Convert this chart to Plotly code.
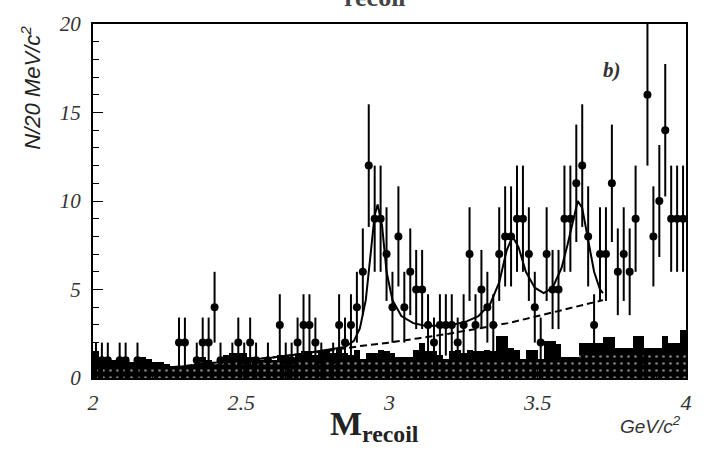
import plotly.graph_objects as go

# Recoil-mass spectrum, 20 MeV/c^2 bins from 2.0 to 4.0 GeV/c^2
x_lo, bin_w = 2.0, 0.02

counts = [
    1, 1, 1, 0, 1, 1, 0, 1, 0, 0,
    0, 0, 0, 0, 2, 2, 0, 1, 2, 2,
    4, 1, 0, 1, 2, 1, 2, 1, 0, 1,
    0, 3, 1, 1, 2, 3, 3, 2, 1, 0,
    1, 3, 2, 3, 4, 6, 12, 9, 9, 7,
    4, 8, 4, 6, 5, 5, 3, 2, 3, 3,
    3, 2, 3, 7, 3, 5, 4, 3, 7, 8,
    8, 9, 9, 7, 4, 2, 7, 5, 5, 9,
    9, 11, 12, 8, 3, 7, 7, 11, 6, 7,
    6, 9, 1, 16, 8, 10, 14, 9, 9, 9,
]

# background estimate (solid black) and its dotted component
bkg_total = [
    1.5, 1.2, 1.2, 1.0, 1.2, 1.2, 0.9, 1.2, 1.2, 1.1,
    0.9, 0.9, 0.8, 0.7, 0.7, 0.7, 0.7, 1.0, 1.2, 1.0,
    0.8, 1.0, 1.3, 1.4, 1.4, 1.4, 1.2, 1.0, 1.0, 0.8,
    1.0, 1.3, 1.3, 1.0, 1.3, 1.5, 1.5, 1.3, 1.5, 1.6,
    1.4, 1.7, 1.4, 1.3, 1.6, 1.1, 1.4, 1.4, 1.6, 1.5,
    1.4, 1.2, 1.2, 1.2, 1.6, 2.0, 1.5, 1.5, 1.3, 1.1,
    1.5, 1.6, 1.4, 1.6, 1.5, 1.5, 1.6, 1.5, 2.4, 2.4,
    1.7, 1.6, 1.1, 1.6, 1.6, 1.1, 2.1, 2.1, 1.9, 1.2,
    1.2, 1.2, 2.0, 2.0, 2.0, 2.0, 2.3, 2.3, 1.7, 1.7,
    1.7, 2.4, 2.4, 1.7, 1.7, 1.7, 2.4, 2.0, 2.0, 2.7,
]
bkg_dotted = [
    0.5, 0.5, 0.5, 0.5, 0.5, 0.5, 0.5, 0.5, 0.5, 0.5,
    0.7, 0.7, 0.7, 0.7, 0.7, 0.7, 0.7, 0.9, 0.9, 0.9,
    0.8, 0.9, 0.9, 0.9, 0.9, 0.9, 0.9, 0.9, 0.9, 0.8,
    0.9, 0.9, 0.9, 0.9, 0.9, 1.0, 1.0, 1.0, 1.0, 1.0,
    1.0, 1.0, 1.0, 1.0, 1.0, 1.0, 1.0, 1.0, 1.0, 1.0,
    1.0, 1.0, 1.0, 1.0, 1.0, 1.0, 1.0, 1.0, 1.0, 1.0,
    1.1, 1.1, 1.1, 1.1, 1.1, 1.1, 1.1, 1.1, 1.1, 1.1,
    1.1, 1.1, 1.1, 1.1, 1.1, 1.1, 1.1, 1.1, 1.1, 1.1,
    1.1, 1.1, 1.5, 1.5, 1.5, 1.5, 1.5, 1.5, 1.5, 1.5,
    1.5, 1.5, 1.5, 1.5, 1.5, 1.5, 1.5, 1.5, 1.5, 1.5,
]

# fitted curve (signal + background) and the background component
fit_x = [2.20, 2.30, 2.40, 2.50, 2.60, 2.70, 2.80, 2.85, 2.88, 2.90, 2.92,
         2.935, 2.95, 2.96, 2.975, 2.99, 3.01, 3.04, 3.08, 3.12, 3.20, 3.26,
         3.30, 3.34, 3.37, 3.395, 3.415, 3.435, 3.46, 3.49, 3.52, 3.55, 3.58,
         3.60, 3.62, 3.635, 3.65, 3.67, 3.69, 3.71, 3.72]
fit_y = [0.55, 0.65, 0.85, 1.0, 1.15, 1.35, 1.6, 1.75, 2.1, 2.8, 4.4,
         6.8, 9.2, 9.8, 8.6, 6.0, 4.4, 3.5, 3.1, 2.95, 2.95, 3.2,
         3.5, 4.2, 5.4, 7.2, 8.0, 7.4, 6.0, 5.1, 4.8, 5.1, 6.2,
         7.5, 9.0, 10.0, 9.6, 7.8, 6.0, 5.0, 4.8]
bg_x = [2.20, 2.30, 2.40, 2.50, 2.60, 2.70, 2.80, 2.90, 3.00, 3.10, 3.20,
        3.30, 3.40, 3.50, 3.60, 3.72]
bg_y = [0.55, 0.65, 0.85, 1.0, 1.15, 1.35, 1.55, 1.8, 2.0, 2.25, 2.5,
        2.8, 3.1, 3.5, 3.9, 4.4]

x_ticks = [2, 2.5, 3, 3.5, 4]
x_tick_text = ["2", "2.5", "3", "3.5", "4"]
y_ticks = [0, 5, 10, 15, 20]
y_tick_text = ["0", "5", "10", "15", "20"]

centers = [x_lo + bin_w * (i + 0.5) for i in range(len(counts))]
pts_x = [c for c, n in zip(centers, counts) if n > 0]
pts_y = [n for n in counts if n > 0]
pts_err = [n ** 0.5 for n in pts_y]

fig = go.Figure()

fig.add_trace(go.Bar(
    x=centers, y=bkg_total, width=bin_w,
    marker=dict(color="black", line=dict(width=0)),
    hoverinfo="skip",
))
fig.add_trace(go.Bar(
    x=centers, y=bkg_dotted, width=bin_w,
    marker=dict(color="black", line=dict(width=0),
                pattern=dict(shape=".", fgcolor="white", bgcolor="black",
                             size=7, solidity=0.12, fillmode="overlay")),
    hoverinfo="skip",
))

fig.add_trace(go.Scatter(
    x=bg_x, y=bg_y, mode="lines",
    line=dict(color="black", width=2, dash="7px,4px"),
    hoverinfo="skip",
))
fig.add_trace(go.Scatter(
    x=fit_x, y=fit_y, mode="lines",
    line=dict(color="black", width=2),
    hoverinfo="skip",
))

fig.add_trace(go.Scatter(
    x=pts_x, y=pts_y, mode="markers",
    marker=dict(color="black", size=8, symbol="circle"),
    error_y=dict(type="data", array=pts_err, visible=True,
                 color="black", thickness=2, width=0),
    hoverinfo="skip",
))

serif = "Liberation Serif"
sans = "Liberation Sans"

fig.update_layout(
    width=704, height=454,
    margin=dict(l=93, r=12, t=18, b=76),
    paper_bgcolor="white", plot_bgcolor="white",
    barmode="overlay", bargap=0, showlegend=False,
    xaxis=dict(
        range=[2, 4], tickvals=x_ticks, ticktext=x_tick_text,
        ticks="inside", ticklen=10, tickwidth=1, tickcolor="black",
        minor=dict(dtick=0.1, ticks="inside", ticklen=5, tickcolor="black"),
        showgrid=False, zeroline=False,
        showline=True, linecolor="black", linewidth=2, mirror=True,
        tickfont=dict(family=serif, size=22, color="#333", style="italic"),
        ticklabelstandoff=4,
    ),
    yaxis=dict(
        range=[0, 20], tickvals=y_ticks, ticktext=y_tick_text,
        ticks="inside", ticklen=10, tickwidth=1, tickcolor="black",
        minor=dict(dtick=1, ticks="inside", ticklen=6, tickcolor="black"),
        showgrid=False, zeroline=False,
        showline=True, linecolor="black", linewidth=2, mirror=True,
        tickfont=dict(family=serif, size=21, color="#333", style="italic"),
        ticklabelstandoff=6,
    ),
    annotations=[
        dict(text="N/20 MeV/c<sup>2</sup>", xref="paper", yref="paper",
             x=-0.105, y=1.0, xanchor="center", yanchor="top", textangle=-90,
             showarrow=False,
             font=dict(family=sans, size=22, color="#222", style="italic")),
        dict(text="<b>M</b><sub><b>recoil</b></sub>", xref="paper", yref="paper",
             x=0.475, y=-0.07, xanchor="center", yanchor="top", showarrow=False,
             font=dict(family=serif, size=34, color="#222")),
        dict(text="GeV/c<sup>2</sup>", xref="paper", yref="paper",
             x=0.995, y=-0.092, xanchor="right", yanchor="top", showarrow=False,
             font=dict(family=sans, size=19, color="#333", style="italic")),
        dict(text="<b>b)</b>", xref="paper", yref="paper",
             x=0.876, y=0.87, xanchor="center", yanchor="middle", showarrow=False,
             font=dict(family=serif, size=21, color="#333", style="italic")),
        dict(text="<b>recoil</b>", xref="paper", yref="paper",
             x=0.475, y=1.028, xanchor="center", yanchor="bottom", showarrow=False,
             font=dict(family=serif, size=26, color="#444")),
    ],
)

fig.write_html("out.html")
